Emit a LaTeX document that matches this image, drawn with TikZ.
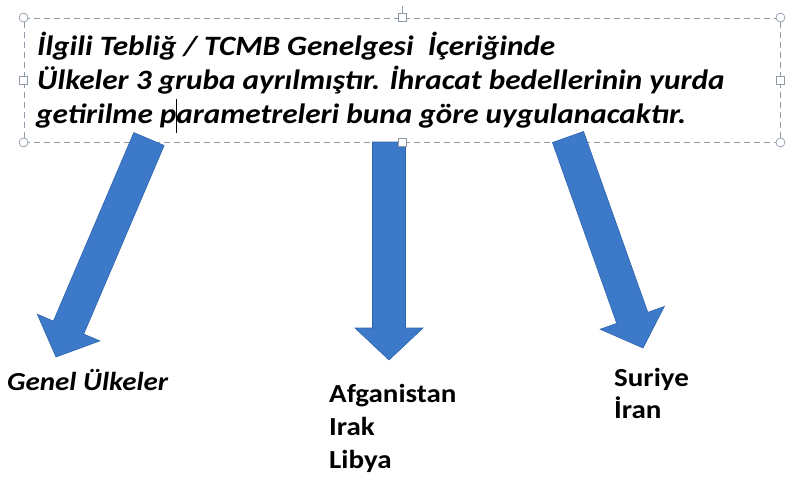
\documentclass[tikz,border=0pt]{standalone}
\usepackage{fontspec}
\setmainfont{Carlito}[FakeStretch=1.115]
\usetikzlibrary{positioning, calc}
\definecolor{arrowblue}{HTML}{3D79C9}
\definecolor{arrowedge}{HTML}{2E64AC}
\definecolor{framegray}{HTML}{8E9AA8}

% block arrow from #1 to tip #2
\newcommand{\blockarrow}[2]{%
  \path ($(#2)!32pt!(#1)$) coordinate (hb);
  \filldraw[arrowbody] ($(#1)!16.5pt!90:(#2)$) -- ($(hb)!16.5pt!90:(#2)$)
    -- ($(hb)!34pt!90:(#2)$) -- (#2) -- ($(hb)!34pt!-90:(#2)$)
    -- ($(hb)!16.5pt!-90:(#2)$) -- ($(#1)!16.5pt!-90:(#2)$) -- cycle;}

\begin{document}
\begin{tikzpicture}[x=1pt, y=-1pt,
    every node/.style={inner sep=0pt, font=\fontsize{26}{33}\selectfont\bfseries},
    frame/.style={draw=framegray, dashed, dash pattern=on 6pt off 4pt, line width=0.9pt},
    cornerh/.style={circle, draw=framegray, fill=white, minimum size=9pt, line width=0.7pt},
    sideh/.style={rectangle, draw=framegray, fill=white, minimum size=8pt, line width=0.7pt},
    arrowbody/.style={fill=arrowblue, draw=arrowedge, line width=0.6pt, line join=miter},
    label/.style={align=left, anchor=base west},
    notetext/.style={label, font=\fontsize{28}{34}\selectfont\bfseries\itshape}]
  \useasboundingbox (0,0) rectangle (789,479);
  % --- ramka zaznaczenia ---
  \node[frame, minimum width=756pt, minimum height=124pt] (sel) at (402,80) {};
  \draw[framegray, line width=0.8pt] (sel.north) -- ++(0,-12);
  \node[notetext] (note)  at (37,55)  {İlgili Tebliğ / TCMB Genelgesi\ \ İçeriğinde};
  \node[notetext] (note2) at (37,89)  {Ülkeler 3 gruba ayrılmıştır. İhracat bedellerinin yurda};
  \node[notetext] (note3) at (36,123) {getirilme parametreleri buna göre uygulanacaktır.};
  \coordinate (cursor) at (176,99);
  \draw[black, line width=0.9pt] (cursor) -- ++(0,34);
  % --- grupy krajow ---
  \node[label, font=\fontsize{26}{33}\selectfont\bfseries\itshape] (genel) at (7,390) {Genel Ülkeler};
  \node[label] (afg) at (329,402) {Afganistan};
  \node[label] (irak) at (329,435) {Irak};
  \node[label] (libya) at (329,468) {Libya};
  \node[label] (suriye) at (614,386) {Suriye};
  \node[label] (iran) at (614,418) {İran};
  % --- strzalki ---
  \coordinate (s1) at (149,139); \coordinate (t1) at (56,357);
  \coordinate (s2) at (389,142); \coordinate (t2) at (389,360);
  \coordinate (s3) at (568,137); \coordinate (t3) at (643,348);
  \blockarrow{s1}{t1}
  \blockarrow{s2}{t2}
  \blockarrow{s3}{t3}
  % --- uchwyty ---
  \foreach \a in {north west, north east, south west, south east}
    \node[cornerh] at (sel.\a) {};
  \foreach \a in {north, south, west, east}
    \node[sideh] at (sel.\a) {};
\end{tikzpicture}
\end{document}
